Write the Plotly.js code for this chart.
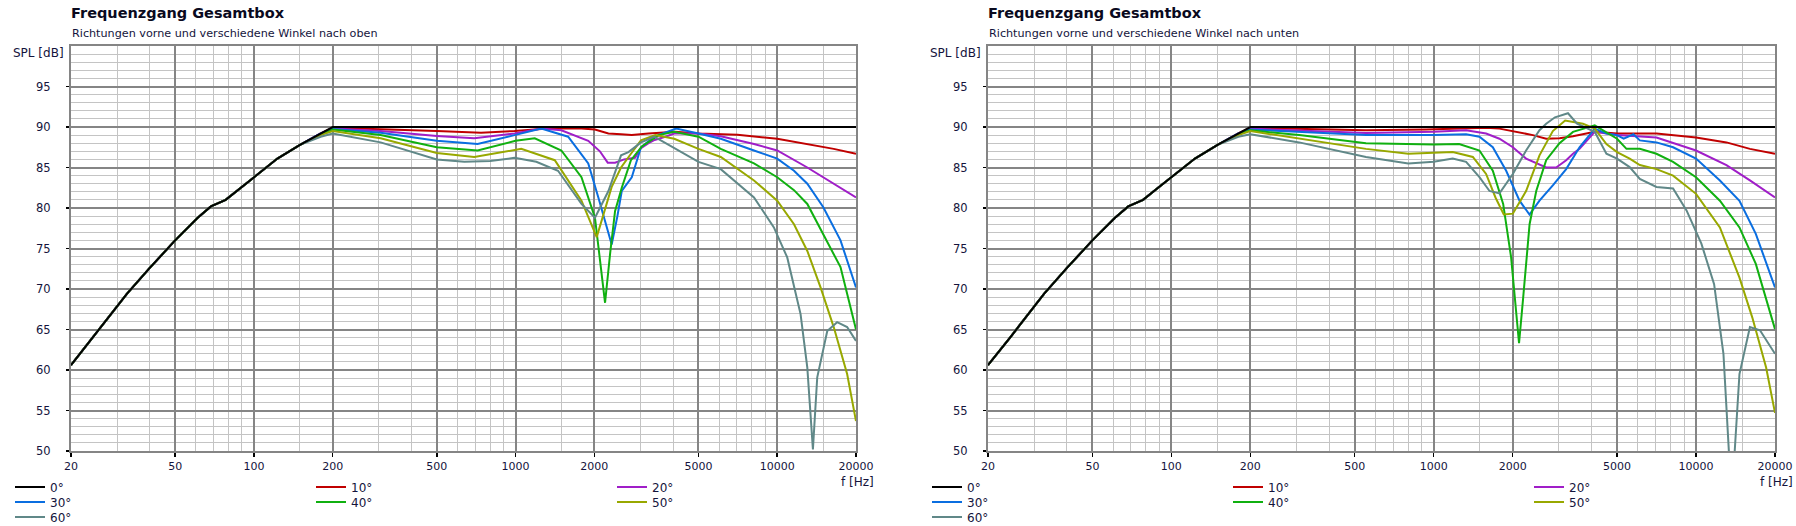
<!DOCTYPE html>
<html>
<head>
<meta charset="utf-8">
<script src="https://cdn.plot.ly/plotly-3.0.1.min.js"></script>
<style>html,body{margin:0;padding:0;background:#fff;}#chart{width:1796px;height:526px;}</style>
</head>
<body>
<div id="chart"></div>
<script>
// ---------- DATA ----------
const angleNames = ["0°", "10°", "20°", "30°", "40°", "50°", "60°"];
const xTickVals = [20, 50, 100, 200, 500, 1000, 2000, 5000, 10000, 20000];
const xTickText = ["20", "50", "100", "200", "500", "1000", "2000", "5000", "10000", "20000"];
const xMinorVals = [30, 40, 60, 70, 80, 90, 150, 300, 400, 600, 700, 800, 900, 1500, 3000, 4000, 6000, 7000, 8000, 9000, 15000];
const yTickVals = [50, 55, 60, 65, 70, 75, 80, 85, 90, 95];

// shared low-frequency part (identical for all angles)
const lfF  = [20, 24.4, 32.7, 40, 50, 61, 68.5, 78, 89, 100, 123, 150];
const lfDb = [60.6, 64.1, 69.4, 72.6, 76.0, 78.8, 80.2, 81.0, 82.5, 83.8, 86.1, 87.8];

// 0° (same in both charts)
const f0  = [180, 200, 1000, 5000, 20000];
const db0 = [89.2, 90, 90, 90, 90];

// ---- chart 1: nach oben ----
const o10F  = [180, 200, 305, 500, 738, 991, 1330, 1786, 2011, 2264, 2530, 2780, 3223, 4076, 5000, 7045, 10000, 13030, 16440, 20000];
const o10Db = [89.2, 89.9, 89.75, 89.5, 89.3, 89.5, 89.8, 89.8, 89.7, 89.2, 89.1, 89.0, 89.2, 89.4, 89.2, 89.05, 88.55, 87.9, 87.3, 86.7];
const o20F  = [180, 200, 305, 500, 695, 991, 1254, 1496, 1896, 2100, 2250, 2400, 2600, 2860, 3015, 3223, 3400, 3733, 4040, 5000, 6085, 8150, 10000, 13030, 16440, 20000];
const o20Db = [89.2, 89.8, 89.5, 88.9, 88.6, 89.2, 89.8, 89.6, 88.3, 87.0, 85.6, 85.6, 86.0, 86.2, 87.4, 88.0, 88.4, 88.8, 89.2, 89.2, 88.85, 87.9, 87.1, 85.0, 83.0, 81.3];
const o30F  = [180, 200, 305, 500, 716, 991, 1254, 1588, 1896, 2072, 2200, 2330, 2450, 2546, 2780, 3015, 3388, 4110, 5000, 6085, 8150, 10000, 11590, 13030, 15000, 17450, 20000];
const o30Db = [89.2, 89.75, 89.3, 88.3, 87.9, 89.0, 89.8, 88.8, 85.5, 81.3, 78.3, 75.5, 79.0, 82.1, 83.8, 87.5, 88.8, 89.8, 89.2, 88.55, 87.1, 86.1, 84.6, 83.0, 80.1, 76.0, 70.2];
const o40F  = [180, 200, 305, 500, 716, 1000, 1184, 1496, 1786, 2011, 2100, 2198, 2300, 2400, 2546, 2760, 3038, 3524, 4040, 5000, 6085, 8150, 10000, 11590, 13030, 15000, 17450, 20000];
const o40Db = [89.1, 89.7, 89.0, 87.5, 87.1, 88.3, 88.6, 87.1, 83.8, 78.8, 73.5, 68.3, 74.5, 79.6, 82.5, 85.9, 87.6, 89.0, 89.4, 88.8, 87.3, 85.5, 83.8, 82.2, 80.5, 76.8, 72.7, 65.0];
const o50F  = [180, 200, 305, 500, 695, 1051, 1412, 1786, 2042, 2330, 2530, 2760, 3015, 3420, 4040, 5000, 6085, 8150, 10000, 11590, 13030, 14640, 16440, 18500, 20000];
const o50Db = [89.0, 89.5, 88.6, 86.8, 86.3, 87.3, 85.9, 80.9, 76.4, 82.6, 85.0, 86.7, 88.35, 89.0, 88.55, 87.3, 86.3, 83.4, 80.9, 78.0, 74.7, 70.2, 65.3, 59.5, 53.7];
const o60F  = [180, 200, 305, 500, 637, 800, 991, 1200, 1453, 1786, 2011, 2264, 2530, 2700, 3015, 3388, 3708, 4230, 5000, 6085, 8150, 9710, 10920, 12280, 13030, 13690, 14220, 15530, 16940, 18500, 20000];
const o60Db = [88.8, 89.2, 88.1, 86.0, 85.7, 85.8, 86.2, 85.7, 84.6, 80.5, 78.8, 82.1, 86.5, 86.9, 88.1, 88.8, 88.1, 87.1, 85.7, 84.8, 81.3, 77.6, 73.9, 66.9, 60.3, 50.2, 59.1, 64.8, 65.9, 65.3, 63.6];

// ---- chart 2: nach unten ----
const u10F  = [180, 200, 307, 552, 935, 1584, 1781, 2003, 2387, 2684, 3017, 3396, 4110, 5000, 7065, 10000, 13060, 16050, 20000];
const u10Db = [89.2, 89.9, 89.8, 89.6, 89.7, 89.9, 89.8, 89.5, 89.0, 88.55, 88.6, 88.85, 89.4, 89.2, 89.2, 88.7, 88.1, 87.3, 86.7];
const u20F  = [180, 200, 307, 552, 1000, 1329, 1584, 1781, 2003, 2250, 2684, 2930, 3199, 3396, 3597, 4110, 5000, 6106, 7065, 10000, 13060, 16050, 20000];
const u20Db = [89.2, 89.8, 89.6, 89.25, 89.4, 89.6, 89.2, 88.55, 87.5, 86.1, 85.0, 85.0, 85.9, 86.7, 87.3, 89.4, 89.0, 88.8, 88.7, 87.1, 85.3, 83.4, 81.3];
const u30F  = [180, 200, 307, 552, 1000, 1329, 1494, 1680, 1889, 2124, 2318, 2531, 2845, 3199, 3597, 4110, 4554, 5000, 5300, 5770, 6106, 7065, 8175, 10000, 12330, 14640, 16900, 20000];
const u30Db = [89.2, 89.7, 89.4, 89.0, 89.0, 89.1, 88.8, 87.5, 84.6, 80.9, 79.2, 80.9, 82.8, 84.8, 87.5, 89.8, 89.2, 89.0, 88.55, 89.1, 88.35, 88.1, 87.5, 86.1, 83.4, 80.9, 76.8, 70.2];
const u40F  = [180, 200, 307, 552, 1000, 1250, 1494, 1680, 1840, 1973, 2060, 2115, 2193, 2320, 2460, 2684, 3017, 3396, 4110, 5000, 5430, 6106, 7065, 8175, 10000, 12330, 14640, 16900, 20000];
const u40Db = [89.1, 89.6, 89.0, 88.0, 87.85, 87.9, 87.1, 84.6, 80.5, 73.9, 67.5, 63.3, 68.9, 78.0, 82.1, 85.9, 88.0, 89.4, 90.2, 88.55, 87.3, 87.3, 86.7, 85.7, 83.8, 80.9, 77.6, 73.1, 65.05];
const u50F  = [180, 200, 307, 552, 800, 1182, 1410, 1584, 1720, 1850, 2003, 2250, 2531, 2845, 3170, 3708, 4110, 4554, 5000, 5585, 6106, 7065, 8175, 10000, 12330, 14640, 16380, 18500, 20000];
const u50Db = [89.0, 89.5, 88.55, 87.3, 86.7, 86.9, 86.3, 84.2, 81.3, 79.2, 79.3, 82.1, 86.5, 89.5, 90.8, 90.4, 89.8, 87.9, 86.9, 86.1, 85.3, 84.8, 84.0, 81.75, 77.6, 71.4, 66.5, 60.3, 54.7];
const u60F  = [180, 200, 307, 552, 800, 1000, 1182, 1329, 1494, 1632, 1781, 2003, 2250, 2531, 2684, 2900, 3250, 3520, 4110, 4554, 5000, 5585, 6106, 7065, 8175, 9200, 10480, 11720, 12720, 13500, 13860, 14640, 16050, 17530, 20000];
const u60Db = [88.8, 89.1, 88.1, 86.3, 85.5, 85.7, 86.1, 85.7, 83.8, 82.1, 81.8, 84.2, 87.1, 89.6, 90.4, 91.2, 91.7, 90.4, 89.4, 86.7, 86.1, 85.05, 83.6, 82.6, 82.4, 79.7, 75.6, 70.6, 62.0, 47.0, 47.0, 59.5, 65.3, 64.9, 62.0];

// ---------- STYLE ----------
const colors = ["#000000", "#c00000", "#a01ec8", "#0a6ee0", "#10b010", "#98a800", "#608888"];
const FONT = "DejaVu Sans, Verdana, sans-serif";
const TXT = "#14143c";
const W = 1796, H = 526;
const px = v => v / W, py = v => 1 - v / H;

const panels = [
  { sub: "Richtungen vorne und verschiedene Winkel nach oben", left: 71, right: 856,
    series: [[f0, db0], [o10F, o10Db], [o20F, o20Db], [o30F, o30Db], [o40F, o40Db], [o50F, o50Db], [o60F, o60Db]] },
  { sub: "Richtungen vorne und verschiedene Winkel nach unten", left: 988, right: 1775,
    series: [[f0, db0], [u10F, u10Db], [u20F, u20Db], [u30F, u30Db], [u40F, u40Db], [u50F, u50Db], [u60F, u60Db]] }
];

const traces = [];
const layout = {
  width: W, height: H, margin: { l: 0, r: 0, t: 0, b: 0, autoexpand: false },
  paper_bgcolor: "#ffffff", plot_bgcolor: "#ffffff",
  font: { family: FONT, size: 11, color: TXT },
  showlegend: true, annotations: []
};

panels.forEach((p, pi) => {
  const sfx = pi === 0 ? "" : "2";
  const xa = "x" + sfx, ya = "y" + sfx;
  // draw 10..60 first, 0° last so it lies on top
  const order = [1, 2, 3, 4, 5, 6, 0];
  order.forEach(i => {
    const [f, db] = p.series[i];
    const row = Math.floor(i / 3);
    const legId = "legend" + (pi * 3 + row === 0 ? "" : (pi * 3 + row + 1));
    traces.push({
      type: "scatter", mode: "lines", name: angleNames[i],
      x: lfF.concat(f), y: lfDb.concat(db),
      xaxis: xa, yaxis: ya, legend: legId, legendrank: i + 1,
      line: { color: colors[i], width: 2 }, hoverinfo: "skip"
    });
  });
  layout["xaxis" + sfx] = {
    type: "log", range: [Math.log10(20), Math.log10(20000)],
    domain: [px(p.left), px(p.right)], anchor: ya,
    tickmode: "array", tickvals: xTickVals, ticktext: xTickText,
    ticks: "outside", ticklen: 4, tickwidth: 1.5, tickcolor: "#000000",
    ticklabelstandoff: 0,
    showgrid: true, gridcolor: "#858585", gridwidth: 2,
    minor: { tickmode: "array", tickvals: xMinorVals, showgrid: true, gridcolor: "#c4c4c4", gridwidth: 1, ticks: "" },
    showline: true, linecolor: "#858585", linewidth: 2, mirror: true,
    zeroline: false, tickfont: { family: FONT, size: 11, color: TXT }, fixedrange: true
  };
  layout["yaxis" + sfx] = {
    range: [50, 100], domain: [py(451), py(46)], anchor: xa,
    tickmode: "array", tickvals: yTickVals,
    ticks: "outside", ticklen: 3, tickwidth: 1.5, tickcolor: "#000000",
    ticklabelstandoff: 13,
    showgrid: true, gridcolor: "#858585", gridwidth: 2,
    minor: { dtick: 1, showgrid: true, gridcolor: "#c4c4c4", gridwidth: 1, ticks: "" },
    showline: true, linecolor: "#858585", linewidth: 2, mirror: true,
    zeroline: false, tickfont: { family: FONT, size: 11.5, color: TXT }, fixedrange: true
  };
  // titles
  layout.annotations.push(
    { text: "<b>Frequenzgang Gesamtbox</b>", xref: "paper", yref: "paper", x: px(p.left - 2), y: py(13),
      xanchor: "left", yanchor: "middle", showarrow: false, font: { family: FONT, size: 14.5, color: "#0a0a1e" } },
    { text: p.sub, xref: "paper", yref: "paper", x: px(p.left - 1), y: py(33),
      xanchor: "left", yanchor: "middle", showarrow: false, font: { family: FONT, size: 11.2, color: TXT } },
    { text: "SPL [dB]", xref: "paper", yref: "paper", x: px(p.left - 5), y: py(53),
      xanchor: "right", yanchor: "middle", showarrow: false, font: { family: FONT, size: 12, color: TXT } },
    { text: "f [Hz]", xref: "paper", yref: "paper", x: px(p.right + 20), y: py(482),
      xanchor: "right", yanchor: "middle", showarrow: false, font: { family: FONT, size: 12, color: TXT } }
  );
  // legends: three rows per panel
  const rowsY = [487, 502, 517];
  for (let r = 0; r < 3; r++) {
    const id = "legend" + (pi * 3 + r === 0 ? "" : (pi * 3 + r + 1));
    layout[id] = {
      orientation: "h", x: px(p.left - 61), y: py(rowsY[r]), xanchor: "left", yanchor: "middle",
      entrywidth: 256, entrywidthmode: "pixels", itemwidth: 30, bgcolor: "rgba(0,0,0,0)",
      borderwidth: 0, font: { family: FONT, size: 12, color: TXT }, tracegroupgap: 0,
      itemclick: false, itemdoubleclick: false
    };
  }
});

Plotly.newPlot("chart", traces, layout, { staticPlot: true, displayModeBar: false });
</script>
</body>
</html>
